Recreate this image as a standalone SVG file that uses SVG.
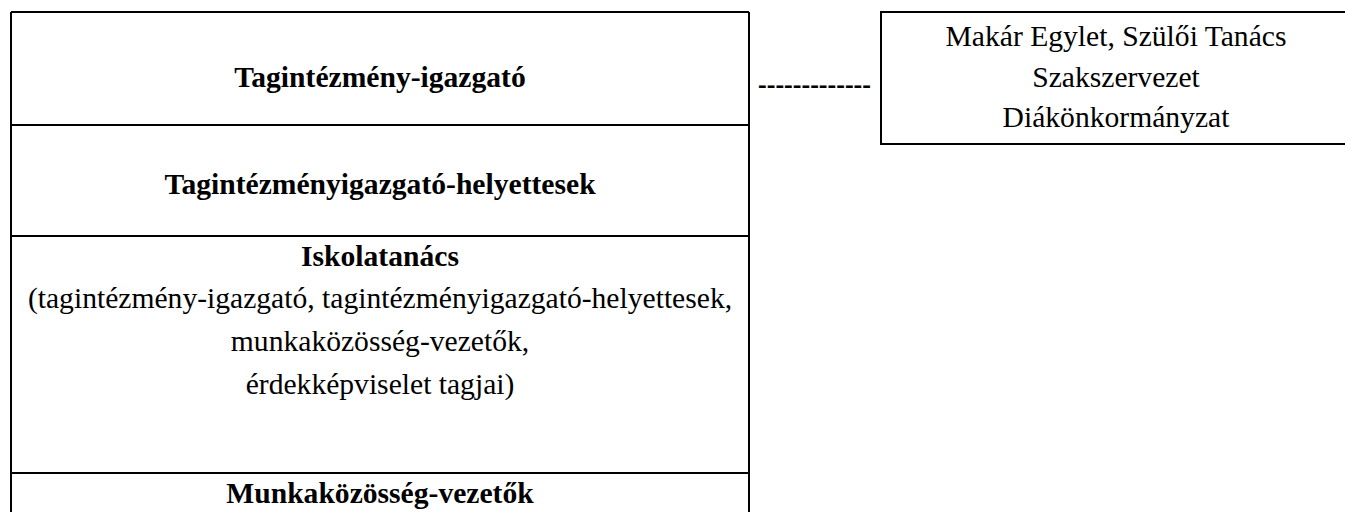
<svg xmlns="http://www.w3.org/2000/svg" width="1345" height="512" viewBox="0 0 1345 512">
<style>
.ln{stroke:#000;stroke-width:2;fill:none}
.t{font-family:"Liberation Serif","Times New Roman",serif;font-size:29.6px;fill:#000;text-anchor:middle}
.b{font-weight:bold}
</style>
<rect width="1345" height="512" fill="#fff"/>
<g id="tagintezmeny-igazgato">
<path class="ln" d="M11,12H749M11,12V125M749,12V125"/>
<text class="t b" x="380" y="87">Tagintézmény-igazgató</text>
</g>
<g id="helyettesek">
<path class="ln" d="M11,125H749M11,125V236M749,125V236"/>
<text class="t b" x="380" y="194">Tagintézményigazgató-helyettesek</text>
</g>
<g id="iskolatanacs">
<path class="ln" d="M11,236H749M11,236V473M749,236V473"/>
<text class="t b" x="380" y="266">Iskolatanács</text>
<text class="t" x="380" y="308">(tagintézmény-igazgató, tagintézményigazgató-helyettesek,</text>
<text class="t" x="380" y="351">munkaközösség-vezetők,</text>
<text class="t" x="380" y="394">érdekképviselet tagjai)</text>
</g>
<g id="munkakozosseg-vezetok">
<path class="ln" d="M11,473H749M11,473V512M749,473V512"/>
<text class="t b" x="380" y="503">Munkaközösség-vezetők</text>
</g>
<g id="erdekkepviselet">
<path class="ln" d="M1346,12H881V144H1346"/>
<text class="t" x="1116" y="46">Makár Egylet, Szülői Tanács</text>
<text class="t" x="1116" y="87">Szakszervezet</text>
<text class="t" x="1116" y="127">Diákönkormányzat</text>
</g>
<g id="connectors">
<text class="t b" x="758" y="94" style="text-anchor:start" textLength="113" lengthAdjust="spacingAndGlyphs">-------------</text>
</g>
</svg>
